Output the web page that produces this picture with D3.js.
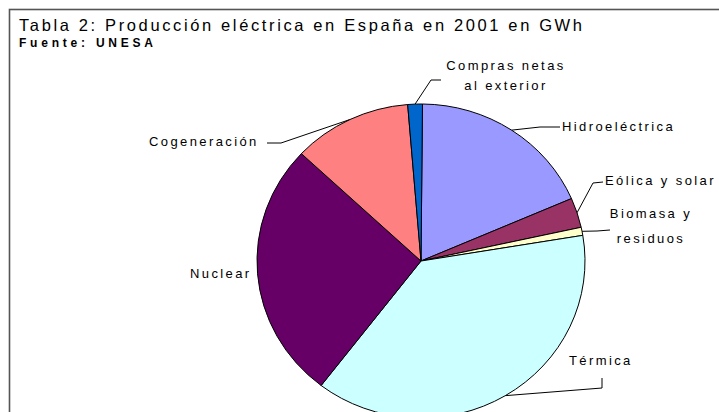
<!DOCTYPE html>
<html>
<head>
<meta charset="utf-8">
<script src="https://cdn.jsdelivr.net/npm/d3@7"></script>
<style>
  body { margin: 0; background: #fff; }
  svg text { font-family: "Liberation Sans", Arial, sans-serif; fill: #000; }
</style>
</head>
<body>
<div id="chart"></div>
<script>
// Data: electricity production in Spain 2001 (GWh)
var sources = ["Hidroeléctrica", "Eólica y solar", "Biomasa y residuos", "Térmica", "Nuclear", "Cogeneración", "Compras netas al exterior"];
var gwh = [44000, 7340, 2000, 91200, 63700, 28100, 3450];
var colors = ["#9999ff", "#993366", "#ffffcc", "#ccffff", "#660066", "#ff8080", "#0066cc"];
// label lines as drawn (split in two where the picture splits them)
var labelLines = [["Hidroeléctrica"], ["Eólica y solar"], ["Biomasa y", "residuos"], ["Térmica"], ["Nuclear"], ["Cogeneración"], ["Compras netas", "al exterior"]];

var W = 719, H = 412;
var cx = 421, cy = 261, r = 164, ky = 157 / 164;

// label placement: anchor, x, baselines, leader elbow points
var labelPos = [
  {anchor: "start", x: 562, y: [131], leader: [[540, 127], [560, 127]]},
  {anchor: "start", x: 605, y: [185], leader: [[593, 183], [603, 182]]},
  {anchor: "middle", x: 651, y: [218, 243], leader: [[597, 231], [610, 230]]},
  {anchor: "start", x: 569, y: [365], leader: [[602, 388], [602, 378]]},
  {anchor: "start", x: 190, y: [278], leader: null},
  {anchor: "start", x: 149, y: [146], leader: [[281, 143], [267, 143]]},
  {anchor: "middle", x: 506, y: [70, 90], leader: [[431, 80], [441, 80]]}
];

var svg = d3.select("#chart").append("svg")
    .attr("width", W)
    .attr("height", H);

svg.append("rect").attr("width", W).attr("height", H).attr("fill", "#fff");

// chart frame (runs off the right and bottom of the picture)
svg.append("rect")
    .attr("x", 9.5).attr("y", 9.5)
    .attr("width", W + 20).attr("height", H + 20)
    .attr("fill", "none")
    .attr("stroke", "#555")
    .attr("stroke-width", 1.6);

svg.append("text")
    .attr("x", 19).attr("y", 31)
    .attr("font-size", 16.5)
    .attr("textLength", 563).attr("lengthAdjust", "spacing")
    .text("Tabla 2: Producción eléctrica en España en 2001 en GWh");

svg.append("text")
    .attr("x", 19).attr("y", 47)
    .attr("font-size", 12)
    .attr("font-weight", "bold")
    .attr("textLength", 134).attr("lengthAdjust", "spacing")
    .text("Fuente: UNESA");

var data = sources.map(function(s, i) { return {name: s, value: gwh[i], color: colors[i], lines: labelLines[i], pos: labelPos[i]}; });

var pie = d3.pie()
    .sort(null)
    .value(d => d.value)
    .startAngle(0.009)
    .endAngle(0.009 + 2 * Math.PI);

var arcs = pie(data);

var arc = d3.arc().innerRadius(0).outerRadius(r);

var g = svg.append("g")
    .attr("transform", "translate(" + cx + "," + cy + ") scale(1," + ky + ")");

g.selectAll("path")
    .data(arcs)
    .enter()
    .append("path")
    .attr("d", arc)
    .attr("fill", d => d.data.color)
    .attr("stroke", "#000")
    .attr("stroke-width", 1)
    .attr("vector-effect", "non-scaling-stroke");

// leader lines from the rim at each slice's middle angle
function rimPoint(a) {
  return [cx + r * Math.sin(a), cy - r * ky * Math.cos(a)];
}

var line = d3.line();
arcs.forEach(function(d) {
  var p = d.data.pos;
  if (p.leader) {
    var mid = (d.startAngle + d.endAngle) / 2;
    var pts = [rimPoint(mid)].concat(p.leader);
    svg.append("path")
        .attr("d", line(pts))
        .attr("fill", "none")
        .attr("stroke", "#000")
        .attr("stroke-width", 1);
  }
  var t = svg.append("text")
      .attr("font-size", 13)
      .attr("letter-spacing", 2.4)
      .attr("text-anchor", p.anchor);
  d.data.lines.forEach(function(l, i) {
    t.append("tspan").attr("x", p.x).attr("y", p.y[i]).text(l);
  });
});
</script>
</body>
</html>
